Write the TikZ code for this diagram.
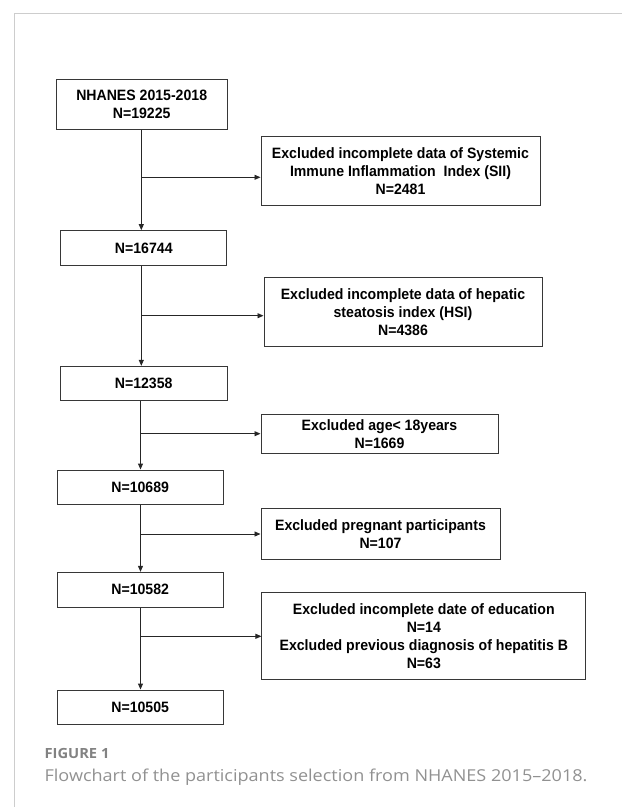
\documentclass[tikz,border=0pt]{standalone}
\usepackage{fontspec}
\setmainfont{Liberation Sans}
\newfontfamily\boxfont[FakeStretch=0.94]{Liberation Sans}
\newfontfamily\capfont[FakeStretch=1.1]{Open Sans}
\newfontfamily\capbfont[FakeStretch=1.05]{Open Sans}
\usetikzlibrary{arrows.meta}
\definecolor{framegray}{RGB}{205,205,205}
\definecolor{capgray}{RGB}{130,130,130}
\definecolor{captxt}{RGB}{145,145,145}
\definecolor{boxline}{RGB}{55,55,55}
\tikzset{
  fbox/.style={draw=boxline, line width=1pt, inner sep=0pt, align=center,
    font=\boxfont\fontsize{15}{18}\selectfont\bfseries, text=black},
  arr/.style={line width=0.9pt, draw=black!85, -{Triangle[length=6pt,width=5pt]}},
}
\begin{document}
\begin{tikzpicture}[x=1pt,y=-1pt]
\useasboundingbox (0,0) rectangle (622,807);
% frame
\draw[framegray, line width=1pt] (622,13.3) -- (14.7,13.3) -- (14.7,807);
% main boxes
\node[fbox, minimum width=170.7pt, minimum height=50pt] (b1) at (141.7,104.3) {NHANES 2015-2018\\N=19225};
\node[fbox, minimum width=166pt, minimum height=34.5pt] (b2) at (143.8,247.9) {N=16744};
\node[fbox, minimum width=166.7pt, minimum height=33.7pt] (b3) at (143.7,383.2) {N=12358};
\node[fbox, minimum width=166.4pt, minimum height=34.3pt] (b4) at (140.2,487.2) {N=10689};
\node[fbox, minimum width=166.4pt, minimum height=34.7pt] (b5) at (140.2,589.7) {N=10582};
\node[fbox, minimum width=166.4pt, minimum height=34.3pt] (b6) at (140.2,707.2) {N=10505};
% exclusion boxes
\node[fbox, minimum width=279pt, minimum height=68.6pt] (e1) at (400.5,171) {Excluded incomplete data of Systemic\\Immune Inflammation\ \ Index (SII)\\N=2481};
\node[fbox, minimum width=278pt, minimum height=69pt] (e2) at (403,311.8) {Excluded incomplete data of hepatic\\steatosis index (HSI)\\N=4386};
\node[fbox, minimum width=237pt, minimum height=39.3pt] (e3) at (379.5,433.7) {Excluded age{<} 18years\\N=1669};
\node[fbox, minimum width=239pt, minimum height=51.3pt] (e4) at (380.5,534.3) {Excluded pregnant participants\\N=107};
\node[fbox, minimum width=323.7pt, minimum height=87.3pt] (e5) at (423.8,636.3) {Excluded incomplete date of education\\N=14\\Excluded previous diagnosis of hepatitis B\\N=63};
% trunk coordinates
\coordinate (ta) at (141.3,0);
\coordinate (tb) at (140.5,0);
% vertical arrows
\draw[arr] (b1.south -| ta) -- (b2.north -| ta);
\draw[arr] (b2.south -| ta) -- (b3.north -| ta);
\draw[arr] (b3.south -| tb) -- (b4.north -| tb);
\draw[arr] (b4.south -| tb) -- (b5.north -| tb);
\draw[arr] (b5.south -| tb) -- (b6.north -| tb);
% branch points
\coordinate (j1) at (141.3,177.3);
\coordinate (j2) at (141.3,315.7);
\coordinate (j3) at (140.5,433.7);
\coordinate (j4) at (140.5,534);
\coordinate (j5) at (140.5,636.3);
\draw[arr] (j1) -- (e1.west |- j1);
\draw[arr] (j2) -- (e2.west |- j2);
\draw[arr] (j3) -- (e3.west |- j3);
\draw[arr] (j4) -- (e4.west |- j4);
\draw[arr] (j5) -- (e5.west |- j5);
% caption
\node[anchor=base west, inner sep=0pt, text=capgray, font=\capbfont\bfseries\fontsize{14}{16}\selectfont] (cap1) at (44.4,758.3) {FIGURE 1};
\node[anchor=base west, inner sep=0pt, text=captxt, font=\capfont\fontsize{16.4}{19}\selectfont] (cap2) at (44.4,781.7) {Flowchart of the participants selection from NHANES 2015–2018.};
\end{tikzpicture}
\end{document}
